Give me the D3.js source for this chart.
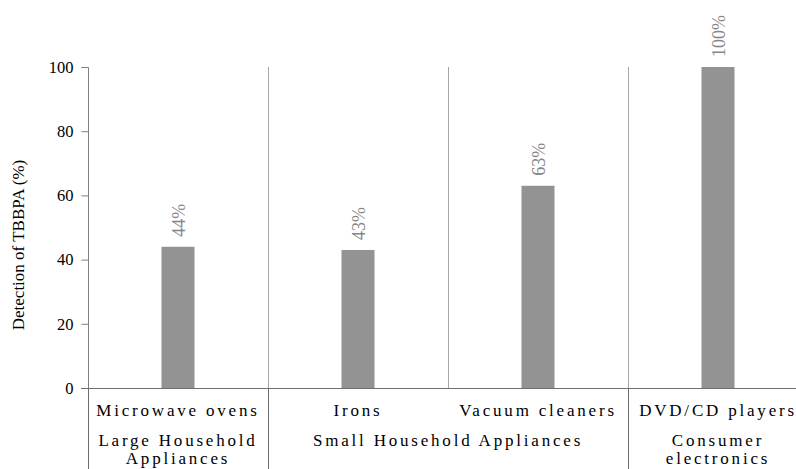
<!DOCTYPE html>
<html>
<head>
<meta charset="utf-8">
<script src="https://cdn.jsdelivr.net/npm/d3@7/dist/d3.min.js"></script>
<style>
  html, body { margin: 0; padding: 0; background: #fff; }
</style>
</head>
<body>
<svg id="chart" width="796" height="469"></svg>
<script>
// Product categories, their groups and TBBPA detection rates
const categories = ["Microwave ovens", "Irons", "Vacuum cleaners", "DVD/CD players"];
const detection = [44, 43, 63, 100];
const valueLabels = ["44%", "43%", "63%", "100%"];
const groups = [
  { lines: ["Large Household", "Appliances"], from: 0, to: 0 },
  { lines: ["Small Household Appliances"], from: 1, to: 2 },
  { lines: ["Consumer", "electronics"], from: 3, to: 3 }
];
const yTicks = [0, 20, 40, 60, 80, 100];

const SERIF = "'Liberation Serif', 'Times New Roman', serif";

const svg = d3.select("#chart");
const margin = { left: 88, top: 67, bottom: 388 };
const plotRight = 808;

const x = d3.scaleBand().domain(categories).range([margin.left, plotRight]).paddingInner(0).paddingOuter(0);
const y = d3.scaleLinear().domain([0, 100]).range([margin.bottom, margin.top]);
const barW = 33;

// category separators inside the plot
svg.selectAll("line.sep")
  .data(categories.slice(1))
  .join("line")
  .attr("class", "sep")
  .attr("x1", d => x(d) + 0.5).attr("x2", d => x(d) + 0.5)
  .attr("y1", y(100)).attr("y2", y(0))
  .attr("stroke", "#a6a6a6").attr("stroke-width", 1);

// bars
svg.selectAll("rect.bar")
  .data(categories)
  .join("rect")
  .attr("class", "bar")
  .attr("x", d => x(d) + x.bandwidth() / 2 - barW / 2)
  .attr("width", barW)
  .attr("y", (d, i) => y(detection[i]))
  .attr("height", (d, i) => y(0) - y(detection[i]))
  .attr("fill", "#939393");

// value labels, rotated
svg.selectAll("text.val")
  .data(categories)
  .join("text")
  .attr("class", "val")
  .attr("transform", (d, i) => `translate(${x(d) + x.bandwidth() / 2 + 6.5},${y(detection[i]) - 10}) rotate(-90)`)
  .style("font-family", SERIF)
  .style("font-size", "18px")
  .attr("fill", "#858585")
  .text((d, i) => valueLabels[i]);

// y axis
const yAxis = d3.axisLeft(y).tickValues(yTicks).tickSize(7).tickPadding(8);
const gy = svg.append("g").attr("transform", `translate(${margin.left + 0.5},0)`).call(yAxis);
gy.select(".domain").attr("stroke", "#808080").attr("d", `M-7,${y(100) + 0.5}H0V${y(0)}`);
gy.selectAll(".tick line").attr("stroke", "#808080");
gy.selectAll(".tick text")
  .style("font-family", SERIF)
  .style("font-size", "16.5px")
  .attr("fill", "#000");

// baseline
svg.append("line")
  .attr("x1", margin.left - 7).attr("x2", 796)
  .attr("y1", y(0) + 0.5).attr("y2", y(0) + 0.5)
  .attr("stroke", "#6e6e6e").attr("stroke-width", 1);

// group divider ticks below the axis
const dividers = [margin.left, x(categories[1]), x(categories[3])];
svg.selectAll("line.div")
  .data(dividers)
  .join("line")
  .attr("class", "div")
  .attr("x1", d => d + 0.5).attr("x2", d => d + 0.5)
  .attr("y1", y(0)).attr("y2", 469)
  .attr("stroke", "#6e6e6e").attr("stroke-width", 1);

// category labels
svg.selectAll("text.cat")
  .data(categories)
  .join("text")
  .attr("class", "cat")
  .attr("x", d => x(d) + x.bandwidth() / 2)
  .attr("y", 416)
  .attr("text-anchor", "middle")
  .style("font-family", SERIF)
  .style("font-size", "17px")
  .style("letter-spacing", "2.8px")
  .attr("fill", "#000")
  .text(d => d);

// group labels
groups.forEach(g => {
  const cx = (x(categories[g.from]) + x(categories[g.to]) + x.bandwidth()) / 2;
  const t = svg.append("text")
    .attr("text-anchor", "middle")
    .style("font-family", SERIF)
    .style("font-size", "17px")
    .style("letter-spacing", "2.8px")
    .attr("fill", "#000");
  g.lines.forEach((ln, i) => {
    t.append("tspan").attr("x", cx).attr("y", 446 + i * 18).text(ln);
  });
});

// y axis title
svg.append("text")
  .attr("transform", `translate(24,245) rotate(-90)`)
  .attr("text-anchor", "middle")
  .style("font-family", SERIF)
  .style("font-size", "17px")
  .attr("fill", "#000")
  .text("Detection of TBBPA (%)");
</script>
</body>
</html>
